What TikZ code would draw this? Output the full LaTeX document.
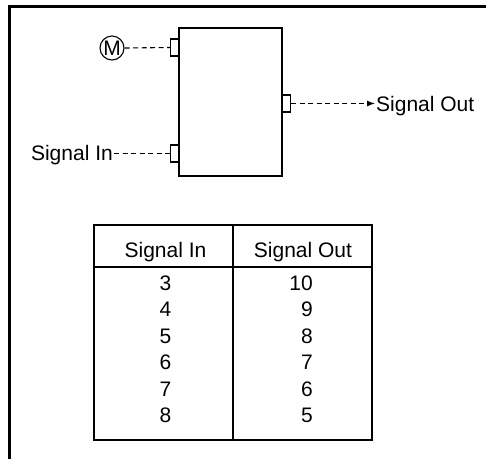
\documentclass[tikz,border=0pt]{standalone}
\usepackage{fontspec}
\setmainfont{Liberation Sans}
\usetikzlibrary{arrows.meta}
\newcommand{\lblfont}{\fontsize{21}{25}\selectfont}

\begin{document}
\begin{tikzpicture}[
  x=1pt, y=-1pt,
  blk/.style={
    draw,
    line width=1.2pt,
    inner sep=0pt,
    minimum width=103pt,
    minimum height=148pt
  },
  port/.style={
    draw,
    fill=white,
    line width=1.2pt,
    inner sep=0pt,
    minimum width=8pt,
    minimum height=17pt
  },
  lbl/.style={font=\lblfont, inner sep=1pt},
  sig/.style={line width=1.1pt, dash pattern=on 5pt off 3.5pt},
  cell/.style={font=\lblfont, inner sep=0pt}
]
\useasboundingbox (0,0) rectangle (486,459);

% frame
\draw[line width=3pt] (9.5,459) -- (9.5,6) -- (487,6);

% block with its ports
\node[blk] (blk) at (230.5,102) {};
\node[port, anchor=east] (pm) at (179,47.5) {};
\node[port, anchor=east] (pin) at (179,153.5) {};
\node[port, anchor=west] (pout) at (282,103.5) {};

\node[circle, draw, line width=1.1pt, inner sep=0pt, minimum size=24pt, font=\lblfont] (m) at (112,48) {M};
\node[lbl, anchor=base east] (sin) at (114,160) {Signal In};
\node[lbl, anchor=base west] (sout) at (375,111) {Signal Out};

\draw[sig] (m.east) -- (pm.west);
\draw[sig] (pin.west -| sin.east) -- (pin.west);
\draw[sig, -{Latex[length=8pt, width=6pt]}] (pout.east) -- (pout.east -| sout.west);

% table
\draw[line width=1.2pt] (94,225) rectangle (372,440);
\draw[line width=1.2pt] (94,267) -- (372,267);
\draw[line width=1.2pt] (233,225) -- (233,440);

\node[cell, anchor=base] (hin) at (165.5,257) {Signal In};
\node[cell, anchor=base] (hout) at (303,257) {Signal Out};
\foreach \a/\b [count=\r from 0] in {3/10, 4/9, 5/8, 6/7, 7/6, 8/5} {
  \node[cell, anchor=base] (in\r) at (165.5,290+26.5*\r) {\a};
  \node[cell, anchor=base east] (out\r) at (313,290+26.5*\r) {\b};
}

\end{tikzpicture}
\end{document}
